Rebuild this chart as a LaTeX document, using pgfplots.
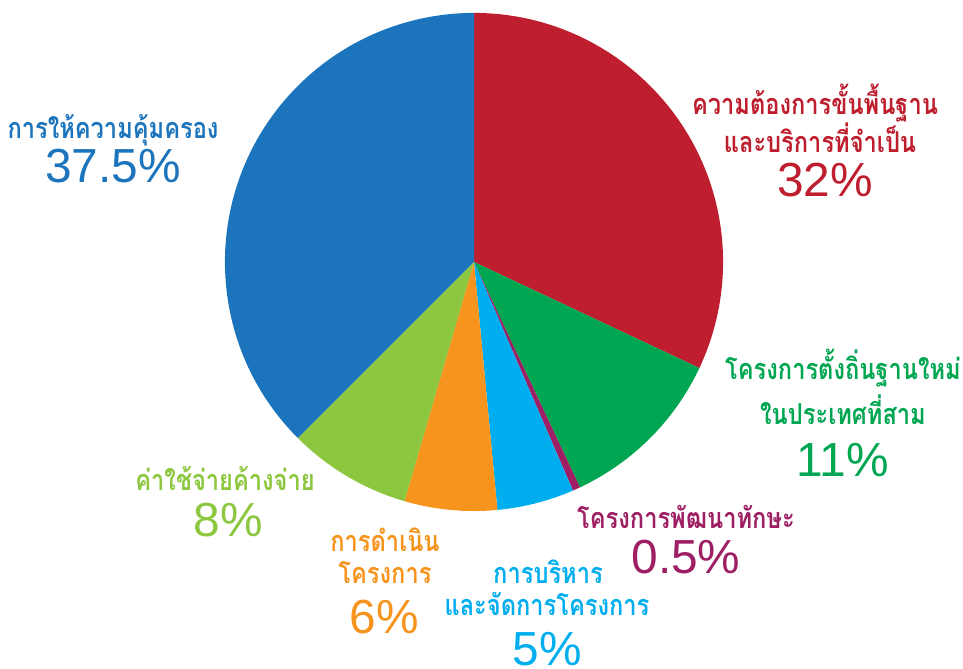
\documentclass[border=0pt]{standalone}
\usepackage{pgfplots}
\pgfplotsset{compat=1.18}
\usepackage{fontspec}
\setmainfont{Liberation Sans}
\newfontfamily\thaifont[Script=Thai, FakeStretch=0.82]{Loma}
\definecolor{cRed}{HTML}{BE1E2D}
\definecolor{cGreen}{HTML}{00A651}
\definecolor{cPurple}{HTML}{9E1F63}
\definecolor{cCyan}{HTML}{00AEEF}
\definecolor{cOrange}{HTML}{F7941D}
\definecolor{cLime}{HTML}{8DC63F}
\definecolor{cBlue}{HTML}{1C75BC}
% slice: start percent, value percent, colour
\newcommand\pieslice[3]{%
  \fill[#3] (axis cs:474,407) -- ++({90-3.6*(#1)}:6.225cm)
    arc[start angle={90-3.6*(#1)}, end angle={90-3.6*((#1)+(#2))}, radius=6.225cm] -- cycle;}
\newcommand\thl[4]{\node[text=#3, font=\thaifont\bfseries\fontsize{20.5}{24}\selectfont, anchor=center, inner sep=0pt] at (axis cs:#1,#2) {#4};}
\newcommand\pct[4]{\node[text=#3, font=\fontsize{34}{38}\selectfont, anchor=center, inner sep=0pt] at (axis cs:#1,#2) {#4};}
\begin{document}
\begin{tikzpicture}
\begin{axis}[
  x=0.025cm, y=0.025cm,
  xmin=0, xmax=963, ymin=0, ymax=669,
  hide axis, clip=false,
]
% values in percent: 32, 11, 0.5, 5, 6, 8, 37.5
\pieslice{0}{32}{cRed}
\pieslice{32}{11}{cGreen}
\pieslice{43}{0.5}{cPurple}
\pieslice{43.5}{5}{cCyan}
\pieslice{48.5}{6}{cOrange}
\pieslice{54.5}{8}{cLime}
\pieslice{62.5}{37.5}{cBlue}
% labels (y = 669 - image y)
\thl{113}{539}{cBlue}{การให้ความคุ้มครอง}
\pct{113}{503}{cBlue}{37.5\%}
\thl{815}{566}{cRed}{ความต้องการขั้นพื้นฐาน}
\thl{820}{531}{cRed}{และบริการที่จำเป็น}
\pct{825}{489}{cRed}{32\%}
\thl{843}{301}{cGreen}{โครงการตั้งถิ่นฐานใหม่}
\thl{843}{259}{cGreen}{ในประเทศที่สาม}
\pct{843}{209}{cGreen}{11\%}
\thl{686}{152}{cPurple}{โครงการพัฒนาทักษะ}
\pct{686}{112}{cPurple}{0.5\%}
\thl{548}{97}{cCyan}{การบริหาร}
\thl{547}{65}{cCyan}{และจัดการโครงการ}
\pct{547}{20}{cCyan}{5\%}
\thl{385}{129}{cOrange}{การดำเนิน}
\thl{385}{96}{cOrange}{โครงการ}
\pct{384}{52}{cOrange}{6\%}
\thl{225}{190}{cLime}{ค่าใช้จ่ายค้างจ่าย}
\pct{228}{149}{cLime}{8\%}
\end{axis}
\pgfresetboundingbox
\path[use as bounding box] (current axis.south west) rectangle (current axis.north east);
\end{tikzpicture}
\end{document}
